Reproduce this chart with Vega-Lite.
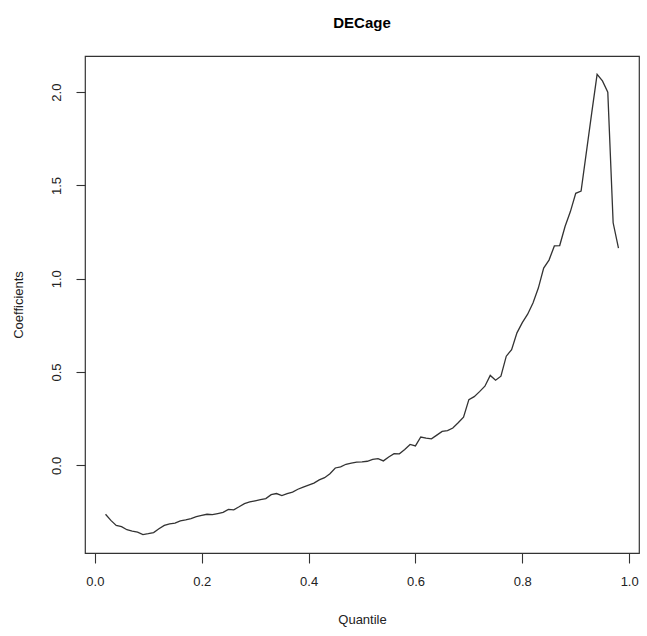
{
  "$schema": "https://vega.github.io/schema/vega-lite/v6.json",
  "autosize": "none",
  "padding": {"left": 85, "top": 56, "right": 8, "bottom": 83},
  "width": 554,
  "height": 497,
  "background": "white",
  "title": {"text": "DECage", "font": "Liberation Sans", "fontSize": 15, "fontWeight": "bold", "color": "black", "anchor": "middle", "offset": 25},
  "config": {
    "view": {"stroke": "#333333", "strokeWidth": 1.2},
    "axis": {"grid": false, "domain": false, "labelFont": "Liberation Sans", "titleFont": "Liberation Sans", "labelFontSize": 13, "titleFontSize": 13, "titleFontWeight": "normal", "labelColor": "#222222", "titleColor": "#222222", "tickColor": "#333333", "tickWidth": 1.1}
  },
  "data": {"values": [
    {"q": 0.02, "c": -0.262}, {"q": 0.03, "c": -0.295}, {"q": 0.04, "c": -0.322}, {"q": 0.05, "c": -0.328},
    {"q": 0.06, "c": -0.345}, {"q": 0.07, "c": -0.352}, {"q": 0.08, "c": -0.358}, {"q": 0.09, "c": -0.371},
    {"q": 0.10, "c": -0.366}, {"q": 0.11, "c": -0.36}, {"q": 0.12, "c": -0.34}, {"q": 0.13, "c": -0.322},
    {"q": 0.14, "c": -0.313}, {"q": 0.15, "c": -0.31}, {"q": 0.16, "c": -0.298}, {"q": 0.17, "c": -0.292},
    {"q": 0.18, "c": -0.285}, {"q": 0.19, "c": -0.275}, {"q": 0.20, "c": -0.268}, {"q": 0.21, "c": -0.262},
    {"q": 0.22, "c": -0.264}, {"q": 0.23, "c": -0.258}, {"q": 0.24, "c": -0.252}, {"q": 0.25, "c": -0.236},
    {"q": 0.26, "c": -0.238}, {"q": 0.27, "c": -0.222}, {"q": 0.28, "c": -0.205}, {"q": 0.29, "c": -0.196},
    {"q": 0.30, "c": -0.19}, {"q": 0.31, "c": -0.184}, {"q": 0.32, "c": -0.178}, {"q": 0.33, "c": -0.157},
    {"q": 0.34, "c": -0.151}, {"q": 0.35, "c": -0.162}, {"q": 0.36, "c": -0.152}, {"q": 0.37, "c": -0.143},
    {"q": 0.38, "c": -0.128}, {"q": 0.39, "c": -0.117}, {"q": 0.40, "c": -0.106}, {"q": 0.41, "c": -0.095},
    {"q": 0.42, "c": -0.078}, {"q": 0.43, "c": -0.066}, {"q": 0.44, "c": -0.045}, {"q": 0.45, "c": -0.014},
    {"q": 0.46, "c": -0.008}, {"q": 0.47, "c": 0.006}, {"q": 0.48, "c": 0.012}, {"q": 0.49, "c": 0.017},
    {"q": 0.50, "c": 0.019}, {"q": 0.51, "c": 0.022}, {"q": 0.52, "c": 0.032}, {"q": 0.53, "c": 0.036},
    {"q": 0.54, "c": 0.024}, {"q": 0.55, "c": 0.045}, {"q": 0.56, "c": 0.063}, {"q": 0.57, "c": 0.062},
    {"q": 0.58, "c": 0.085}, {"q": 0.59, "c": 0.112}, {"q": 0.60, "c": 0.104}, {"q": 0.61, "c": 0.152},
    {"q": 0.62, "c": 0.146}, {"q": 0.63, "c": 0.142}, {"q": 0.64, "c": 0.162}, {"q": 0.65, "c": 0.182},
    {"q": 0.66, "c": 0.186}, {"q": 0.67, "c": 0.2}, {"q": 0.68, "c": 0.228}, {"q": 0.69, "c": 0.258},
    {"q": 0.70, "c": 0.352}, {"q": 0.71, "c": 0.368}, {"q": 0.72, "c": 0.395}, {"q": 0.73, "c": 0.424},
    {"q": 0.74, "c": 0.482}, {"q": 0.75, "c": 0.456}, {"q": 0.76, "c": 0.478}, {"q": 0.77, "c": 0.585},
    {"q": 0.78, "c": 0.62}, {"q": 0.79, "c": 0.71}, {"q": 0.80, "c": 0.765}, {"q": 0.81, "c": 0.81},
    {"q": 0.82, "c": 0.87}, {"q": 0.83, "c": 0.95}, {"q": 0.84, "c": 1.057}, {"q": 0.85, "c": 1.1},
    {"q": 0.86, "c": 1.176}, {"q": 0.87, "c": 1.178}, {"q": 0.88, "c": 1.28}, {"q": 0.89, "c": 1.36},
    {"q": 0.90, "c": 1.458}, {"q": 0.91, "c": 1.47}, {"q": 0.92, "c": 1.68}, {"q": 0.93, "c": 1.89},
    {"q": 0.94, "c": 2.095}, {"q": 0.95, "c": 2.06}, {"q": 0.96, "c": 2.0}, {"q": 0.97, "c": 1.3},
    {"q": 0.98, "c": 1.164}
  ]},
  "mark": {"type": "line", "color": "#333333", "strokeWidth": 1.3},
  "encoding": {
    "x": {"field": "q", "type": "quantitative", "title": "Quantile",
      "scale": {"domain": [-0.0184, 1.0184], "nice": false, "zero": false},
      "axis": {"values": [0, 0.2, 0.4, 0.6, 0.8, 1.0], "format": ".1f", "tickSize": 10, "labelPadding": 12, "titlePadding": 25}},
    "y": {"field": "c", "type": "quantitative", "title": "Coefficients",
      "scale": {"domain": [-0.4696, 2.1936], "nice": false, "zero": false},
      "axis": {"values": [0, 0.5, 1.0, 1.5, 2.0], "format": ".1f", "tickSize": 9, "labelAngle": 270, "labelAlign": "center", "labelBaseline": "alphabetic", "labelPadding": 16, "titlePadding": 25}}
  }
}
